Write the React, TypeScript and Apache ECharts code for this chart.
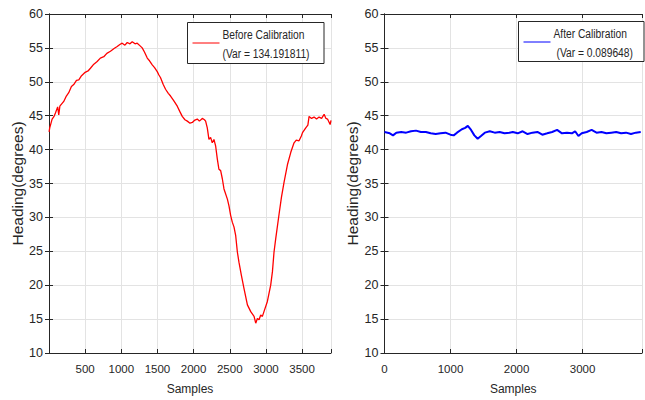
import React, { useEffect, useRef } from "react";
import * as echarts from "echarts";

// Left subplot: sample index / heading before calibration
const beforeSamples = [1, 10, 43, 70, 89, 120, 135, 150, 204, 240, 273, 310, 342, 380, 412, 450, 500, 540, 573, 620, 666, 710, 758, 800, 850, 900, 943, 980, 1012, 1050, 1082, 1120, 1151, 1190, 1220, 1260, 1289, 1320, 1359, 1390, 1428, 1460, 1497, 1520, 1543, 1580, 1612, 1650, 1681, 1720, 1774, 1810, 1843, 1880, 1913, 1950, 1982, 2010, 2051, 2080, 2120, 2150, 2166, 2189, 2212, 2235, 2258, 2281, 2305, 2328, 2350, 2374, 2397, 2420, 2467, 2489, 2512, 2535, 2558, 2582, 2605, 2627, 2660, 2697, 2744, 2790, 2836, 2859, 2882, 2905, 2928, 2951, 2973, 3020, 3066, 3090, 3112, 3136, 3182, 3215, 3251, 3298, 3344, 3389, 3420, 3458, 3490, 3506, 3551, 3580, 3597, 3630, 3666, 3700, 3735, 3770, 3805, 3830, 3852, 3888, 3900];
const beforeHeading = [42.6, 43.2, 44.5, 44.9, 45.4, 46.3, 45.1, 46.4, 47.1, 47.9, 48.4, 49.3, 49.6, 50.2, 50.3, 50.9, 51.4, 51.6, 52.0, 52.6, 53.0, 53.5, 53.7, 54.2, 54.5, 54.9, 55.2, 55.5, 55.7, 55.4, 55.8, 55.6, 55.9, 55.6, 55.7, 55.3, 55.0, 54.4, 53.5, 53.1, 52.5, 52.1, 51.5, 51.0, 50.6, 49.6, 48.9, 48.3, 47.9, 47.3, 46.4, 45.6, 44.9, 44.4, 44.2, 43.9, 44.0, 44.3, 44.5, 44.2, 44.6, 44.4, 44.2, 43.2, 41.5, 41.8, 41.0, 41.5, 40.5, 38.6, 37.1, 36.9, 35.7, 34.2, 32.7, 31.7, 30.3, 29.3, 28.6, 27.3, 24.9, 23.4, 21.5, 19.5, 17.1, 16.1, 15.4, 14.4, 15.1, 14.9, 15.6, 15.4, 16.1, 17.6, 20.0, 22.0, 24.9, 26.9, 30.5, 33.0, 35.2, 37.8, 39.6, 41.0, 41.4, 41.3, 42.0, 42.5, 43.2, 43.6, 44.9, 44.6, 44.8, 44.5, 44.8, 44.6, 45.2, 44.6, 44.5, 43.7, 44.3];

// Right subplot: sample index / heading after calibration
const afterSamples = [0, 80, 129, 179, 253, 328, 402, 477, 551, 626, 700, 775, 849, 924, 998, 1048, 1098, 1172, 1222, 1262, 1311, 1361, 1411, 1461, 1520, 1595, 1669, 1744, 1818, 1893, 1943, 2018, 2092, 2167, 2241, 2316, 2390, 2465, 2539, 2614, 2688, 2763, 2838, 2887, 2937, 2987, 3062, 3137, 3211, 3286, 3360, 3435, 3509, 3584, 3658, 3733, 3807, 3881];
const afterHeading = [42.6, 42.4, 42.1, 42.5, 42.6, 42.5, 42.7, 42.8, 42.6, 42.6, 42.4, 42.3, 42.4, 42.5, 42.2, 42.1, 42.5, 43.0, 43.2, 43.5, 42.9, 42.1, 41.6, 42.0, 42.5, 42.7, 42.5, 42.6, 42.4, 42.5, 42.6, 42.4, 42.7, 42.3, 42.5, 42.6, 42.2, 42.4, 42.6, 42.9, 42.4, 42.5, 42.4, 42.7, 42.0, 42.4, 42.6, 42.9, 42.5, 42.6, 42.4, 42.5, 42.6, 42.4, 42.5, 42.3, 42.5, 42.6];

const beforeLegend = ["Before Calibration", "(Var = 134.191811)"];
const afterLegend = ["After Calibration", "(Var = 0.089648)"];

const FONT = '"Liberation Sans", Arial, Helvetica, sans-serif';
const TXT = "#262626";
const GRIDC = "#e3e3e3";

export default function App() {
  const ref = useRef<HTMLDivElement>(null);
  useEffect(() => {
    if (!ref.current) return;
    const chart = echarts.init(ref.current, undefined, { renderer: "svg" });
    const before = beforeSamples.map((s, i) => [s, beforeHeading[i]]);
    const after = afterSamples.map((s, i) => [s, afterHeading[i]]);

    const xBottom = (gridIndex: number, interval: number, fmt: (v: number) => string) => ({
      type: "value",
      gridIndex,
      position: "bottom",
      min: 0,
      max: 3900,
      interval,
      name: "Samples",
      nameLocation: "middle",
      nameGap: 30,
      nameTextStyle: { fontFamily: FONT, fontSize: 12, color: TXT },
      axisLine: { show: true, lineStyle: { color: TXT, width: 1 } },
      axisTick: { show: true, inside: true, length: 4, lineStyle: { color: TXT } },
      axisLabel: { show: true, margin: 10, fontFamily: FONT, fontSize: 11.5, color: TXT, formatter: fmt },
      splitLine: { show: true, lineStyle: { color: GRIDC, width: 1 } },
    });
    const xTop = (gridIndex: number, interval: number) => ({
      type: "value",
      gridIndex,
      position: "top",
      min: 0,
      max: 3900,
      interval,
      axisLine: { show: true, lineStyle: { color: TXT, width: 1 } },
      axisTick: { show: true, inside: true, length: 4, lineStyle: { color: TXT } },
      axisLabel: { show: false },
      splitLine: { show: false },
    });
    const yLeft = (gridIndex: number) => ({
      type: "value",
      gridIndex,
      position: "left",
      min: 10,
      max: 60,
      interval: 5,
      name: "Heading(degrees)",
      nameLocation: "middle",
      nameGap: 23,
      nameTextStyle: { fontFamily: FONT, fontSize: 15.5, color: TXT },
      axisLine: { show: true, lineStyle: { color: TXT, width: 1 } },
      axisTick: { show: true, inside: true, length: 4, lineStyle: { color: TXT } },
      axisLabel: { show: true, margin: 6, fontFamily: FONT, fontSize: 12.5, color: TXT },
      splitLine: { show: true, lineStyle: { color: GRIDC, width: 1 } },
    });
    const yRight = (gridIndex: number) => ({
      type: "value",
      gridIndex,
      position: "right",
      min: 10,
      max: 60,
      interval: 5,
      axisLine: { show: true, lineStyle: { color: TXT, width: 1 } },
      axisTick: { show: true, inside: true, length: 4, lineStyle: { color: TXT } },
      axisLabel: { show: false },
      splitLine: { show: false },
    });

    const legendBox = (x: number, y: number, w: number, h: number, color: string, lines: string[], tx2: number) => [
      {
        type: "rect",
        shape: { x, y, width: w, height: h },
        style: { fill: "#ffffff", stroke: TXT, lineWidth: 1 },
        z: 100,
      },
      {
        type: "line",
        shape: { x1: x + 5, y1: y + 20.5, x2: x + 32, y2: y + 20.5 },
        style: { stroke: color, lineWidth: 1 },
        z: 101,
      },
      {
        type: "text",
        x: x + 35,
        y: y + 12,
        scaleX: 0.82,
        style: { text: lines[0], fontFamily: FONT, fontSize: 12.5, fill: TXT, verticalAlign: "middle", align: "left" },
        z: 101,
      },
      {
        type: "text",
        x: x + tx2,
        y: y + 31,
        scaleX: 0.82,
        style: { text: lines[1], fontFamily: FONT, fontSize: 12.5, fill: TXT, verticalAlign: "middle", align: "left" },
        z: 101,
      },
    ];

    chart.setOption({
      animation: false,
      backgroundColor: "#ffffff",
      grid: [
        { left: 49, top: 14, width: 282, height: 341, containLabel: false },
        { left: 384.5, top: 14, width: 261.7, height: 341, containLabel: false },
      ],
      xAxis: [
        xBottom(0, 500, (v: number) => (v % 500 === 0 && v !== 0 ? String(v) : "")),
        xTop(0, 500),
        xBottom(1, 1000, (v: number) => (v % 1000 === 0 ? String(v) : "")),
        xTop(1, 1000),
      ],
      yAxis: [yLeft(0), yRight(0), yLeft(1), yRight(1)],
      series: [
        {
          name: "Before Calibration",
          type: "line",
          xAxisIndex: 0,
          yAxisIndex: 0,
          data: before,
          showSymbol: false,
          lineStyle: { color: "#ff0000", width: 1.3 },
          itemStyle: { color: "#ff0000" },
        },
        {
          name: "After Calibration",
          type: "line",
          xAxisIndex: 2,
          yAxisIndex: 2,
          data: after,
          showSymbol: false,
          lineStyle: { color: "#0000ff", width: 2 },
          itemStyle: { color: "#0000ff" },
        },
      ],
      graphic: [
        ...legendBox(187.5, 22.5, 136.5, 41, "#ff0000", beforeLegend, 35),
        ...legendBox(518.5, 21.5, 125.5, 40, "#0000ff", afterLegend, 38),
      ],
    });
    return () => chart.dispose();
  }, []);
  return (
    <div
      ref={ref}
      style={{ position: "fixed", left: 0, top: 0, width: 645, height: 400, background: "#fff" }}
    />
  );
}
